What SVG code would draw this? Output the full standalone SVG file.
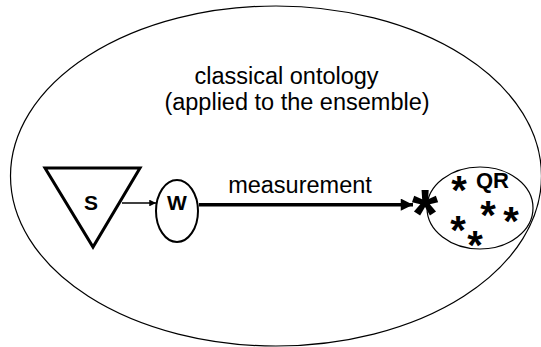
<svg xmlns="http://www.w3.org/2000/svg" width="541" height="347" viewBox="0 0 541 347">
<defs>
<style>
.t{font-family:"Liberation Sans",Arial,sans-serif;fill:#000}
.b{font-weight:bold}
.st{font-family:"Liberation Sans",Arial,sans-serif;font-weight:bold;fill:#000;text-anchor:middle}
</style>
<marker id="ah" viewBox="0 0 10 10" refX="10" refY="5" markerWidth="5.5" markerHeight="4.5" markerUnits="strokeWidth" orient="auto"><path d="M0,0 L10,5 L0,10 Z" fill="#000"/></marker>
<marker id="ah2" viewBox="0 0 10 10" refX="10" refY="5" markerWidth="6" markerHeight="3.5" markerUnits="strokeWidth" orient="auto"><path d="M0,0 L10,5 L0,10 Z" fill="#000"/></marker>
</defs>
<rect width="541" height="347" fill="#fff"/>
<g id="ensemble">
<ellipse cx="276" cy="176" rx="265.5" ry="170" fill="none" stroke="#000" stroke-width="1.2"/>
<text class="t" x="286.5" y="84" font-size="23.5" text-anchor="middle">classical ontology</text>
<text class="t" x="297" y="110" font-size="23.5" text-anchor="middle">(applied to the ensemble)</text>
</g>
<g id="S">
<polygon points="45,168 140,168 93,247" fill="#fff" stroke="#000" stroke-width="3" stroke-linejoin="miter"/>
<text class="t b" x="91" y="210" font-size="21" text-anchor="middle">S</text>
</g>
<g id="W">
<ellipse cx="177" cy="211" rx="21" ry="31" fill="#fff" stroke="#000" stroke-width="2"/>
<text class="t b" x="177" y="210" font-size="21" text-anchor="middle">W</text>
</g>
<g id="QR">
<ellipse cx="480" cy="208" rx="53" ry="41" fill="none" stroke="#000" stroke-width="1.2"/>
<text class="t b" x="476" y="188" font-size="22">QR</text>
<text class="st" x="459" y="204" font-size="40">*</text>
<text class="st" x="488" y="229" font-size="40">*</text>
<text class="st" x="511" y="235" font-size="40">*</text>
<text class="st" x="458" y="244" font-size="40">*</text>
<text class="st" x="475" y="259" font-size="40">*</text>
</g>
<g id="result">
<text class="st" x="425" y="237" font-size="68">*</text>
</g>
<g id="connectors">
<line x1="122" y1="203" x2="156" y2="203" stroke="#000" stroke-width="1.5" marker-end="url(#ah)"/>
<line x1="199" y1="204.7" x2="413" y2="204.7" stroke="#000" stroke-width="3.5" marker-end="url(#ah2)"/>
<text class="t" x="300" y="193" font-size="23.5" text-anchor="middle">measurement</text>
</g>
</svg>
